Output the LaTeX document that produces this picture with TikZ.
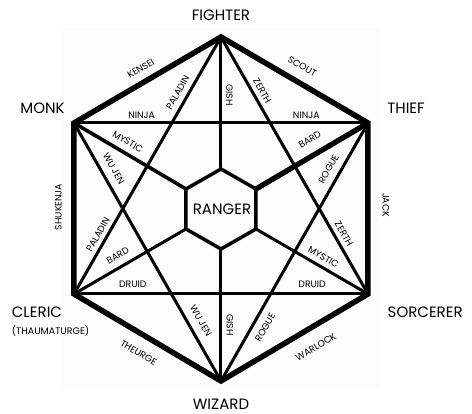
\documentclass[tikz,border=0pt]{standalone}
\usepackage{fontspec}
\newfontfamily\classfont{Poppins}
\definecolor{paper}{RGB}{252,252,252}
\usetikzlibrary{positioning}

\begin{document}
\begin{tikzpicture}[x=1pt,y=1pt,
    rim/.style={line width=5.5pt, line join=miter},
    chord/.style={line width=3pt},
    spoke/.style={line width=3pt},
    cls/.style={font=\classfont\fontsize{15}{18}\selectfont, inner sep=0pt},
    subcls/.style={font=\classfont\fontsize{9.5}{11}\selectfont, inner sep=0pt},
    tag/.style={font=\classfont\fontsize{9.3}{10}\selectfont, inner sep=1pt, sloped},
    vtag/.style={font=\classfont\fontsize{9.3}{10}\selectfont, inner sep=1pt}]

  \useasboundingbox (-221,-205) rectangle (251,209);
  \fill[paper] (-158,-181) rectangle (158,181);

  % the six classes
  \coordinate (fighter)  at (0,172);
  \coordinate (thief)    at (147,86);
  \coordinate (sorcerer) at (147,-85);
  \coordinate (wizard)   at (0,-172);
  \coordinate (cleric)   at (-147,-85);
  \coordinate (monk)     at (-147,86);

  % corners of the ranger hexagon
  \coordinate (rtop) at (0,40);
  \coordinate (rtr)  at (35,20);
  \coordinate (rbr)  at (35,-20);
  \coordinate (rbot) at (0,-40);
  \coordinate (rbl)  at (-35,-20);
  \coordinate (rtl)  at (-35,20);

  % star lines
  \draw[chord] (monk) -- node[tag, pos=0.23, above=1.5pt] (ninja1) {NINJA}
                         node[tag, pos=0.79, above=1.5pt] (ninja2) {NINJA} (thief);
  \draw[chord] (cleric) -- node[tag, pos=0.2, above=4.2pt] (druid1) {DRUID}
                           node[tag, pos=0.81, above=4.2pt] (druid2) {DRUID} (sorcerer);
  \draw[chord] (fighter) -- node[tag, pos=0.235, above=4.3pt] (paladin1) {PALADIN}
                            node[tag, pos=0.785, above=3.1pt] (paladin2) {PALADIN} (cleric);
  \draw[chord] (fighter) -- node[tag, pos=0.227, above=3.4pt] (zerth1) {ZERTH}
                            node[tag, pos=0.783, above=3.3pt] (zerth2) {ZERTH} (sorcerer);
  \draw[chord] (monk) -- node[tag, pos=0.2, above=6.2pt] (wujen1) {WU JEN}
                         node[tag, pos=0.79, above=6.6pt] (wujen2) {WU JEN} (wizard);
  \draw[chord] (thief) -- node[tag, pos=0.2, above=5.7pt] (rogue1) {ROGUE}
                          node[tag, pos=0.77, below=6.1pt] (rogue2) {ROGUE} (wizard);

  % spokes into the ranger
  \draw[spoke] (fighter) -- (rtop);
  \draw[spoke] (wizard) -- (rbot);
  \draw[spoke, line width=3.6pt] (monk) -- node[tag, pos=0.43, above=5pt] (mystic1) {MYSTIC} (rtl);
  \draw[spoke, line width=5.3pt] (thief) -- node[tag, pos=0.45, above=8.5pt] (bard1) {BARD} (rtr);
  \draw[spoke] (sorcerer) -- node[tag, pos=0.44, above=3.7pt] (mystic2) {MYSTIC} (rbr);
  \draw[spoke] (cleric) -- node[tag, pos=0.44, above=5.4pt] (bard2) {BARD} (rbl);
  \draw[line width=3.5pt, line join=miter] (rtop) -- (rtr) -- (rbr) -- (rbot) -- (rbl) -- (rtl) -- cycle;

  % outer ring
  \draw[rim] (fighter) -- node[tag, midway, above=6.2pt] (kensei) {KENSEI} (monk)
    -- (cleric)
    -- node[tag, midway, below=10.5pt] (theurge) {THEURGE} (wizard)
    -- node[tag, pos=0.58, below=12pt] (warlock) {WARLOCK} (sorcerer)
    -- (thief)
    -- node[tag, midway, above=8.4pt] (scout) {SCOUT} cycle;

  \node[vtag, rotate=90]  (shukenja) at (-162.7,2) {SHUKENJA};
  \node[vtag, rotate=-90] (jack)     at (165,4)    {JACK};
  \node[vtag, rotate=-90] (gish1)    at (8.5,114)  {GISH};
  \node[vtag, rotate=-90] (gish2)    at (9,-116)   {GISH};

  % class names
  \node[cls] (ranger)    at (1,0)         {RANGER};
  \node[cls] (lfighter)  at (0,193.7)     {FIGHTER};
  \node[cls] (lmonk)     at (-178.5,100.7) {MONK};
  \node[cls] (lthief)    at (185,100.7)   {THIEF};
  \node[cls] (lsorcerer) at (204.2,-103.5) {SORCERER};
  \node[cls] (lwizard)   at (0,-195)      {WIZARD};
  \node[cls, anchor=west]    (lcleric) at (-209.3,-103.5) {CLERIC};
  \node[subcls, anchor=west] (lthaum)  at (-209.3,-121.7) {(THAUMATURGE)};
\end{tikzpicture}
\end{document}
